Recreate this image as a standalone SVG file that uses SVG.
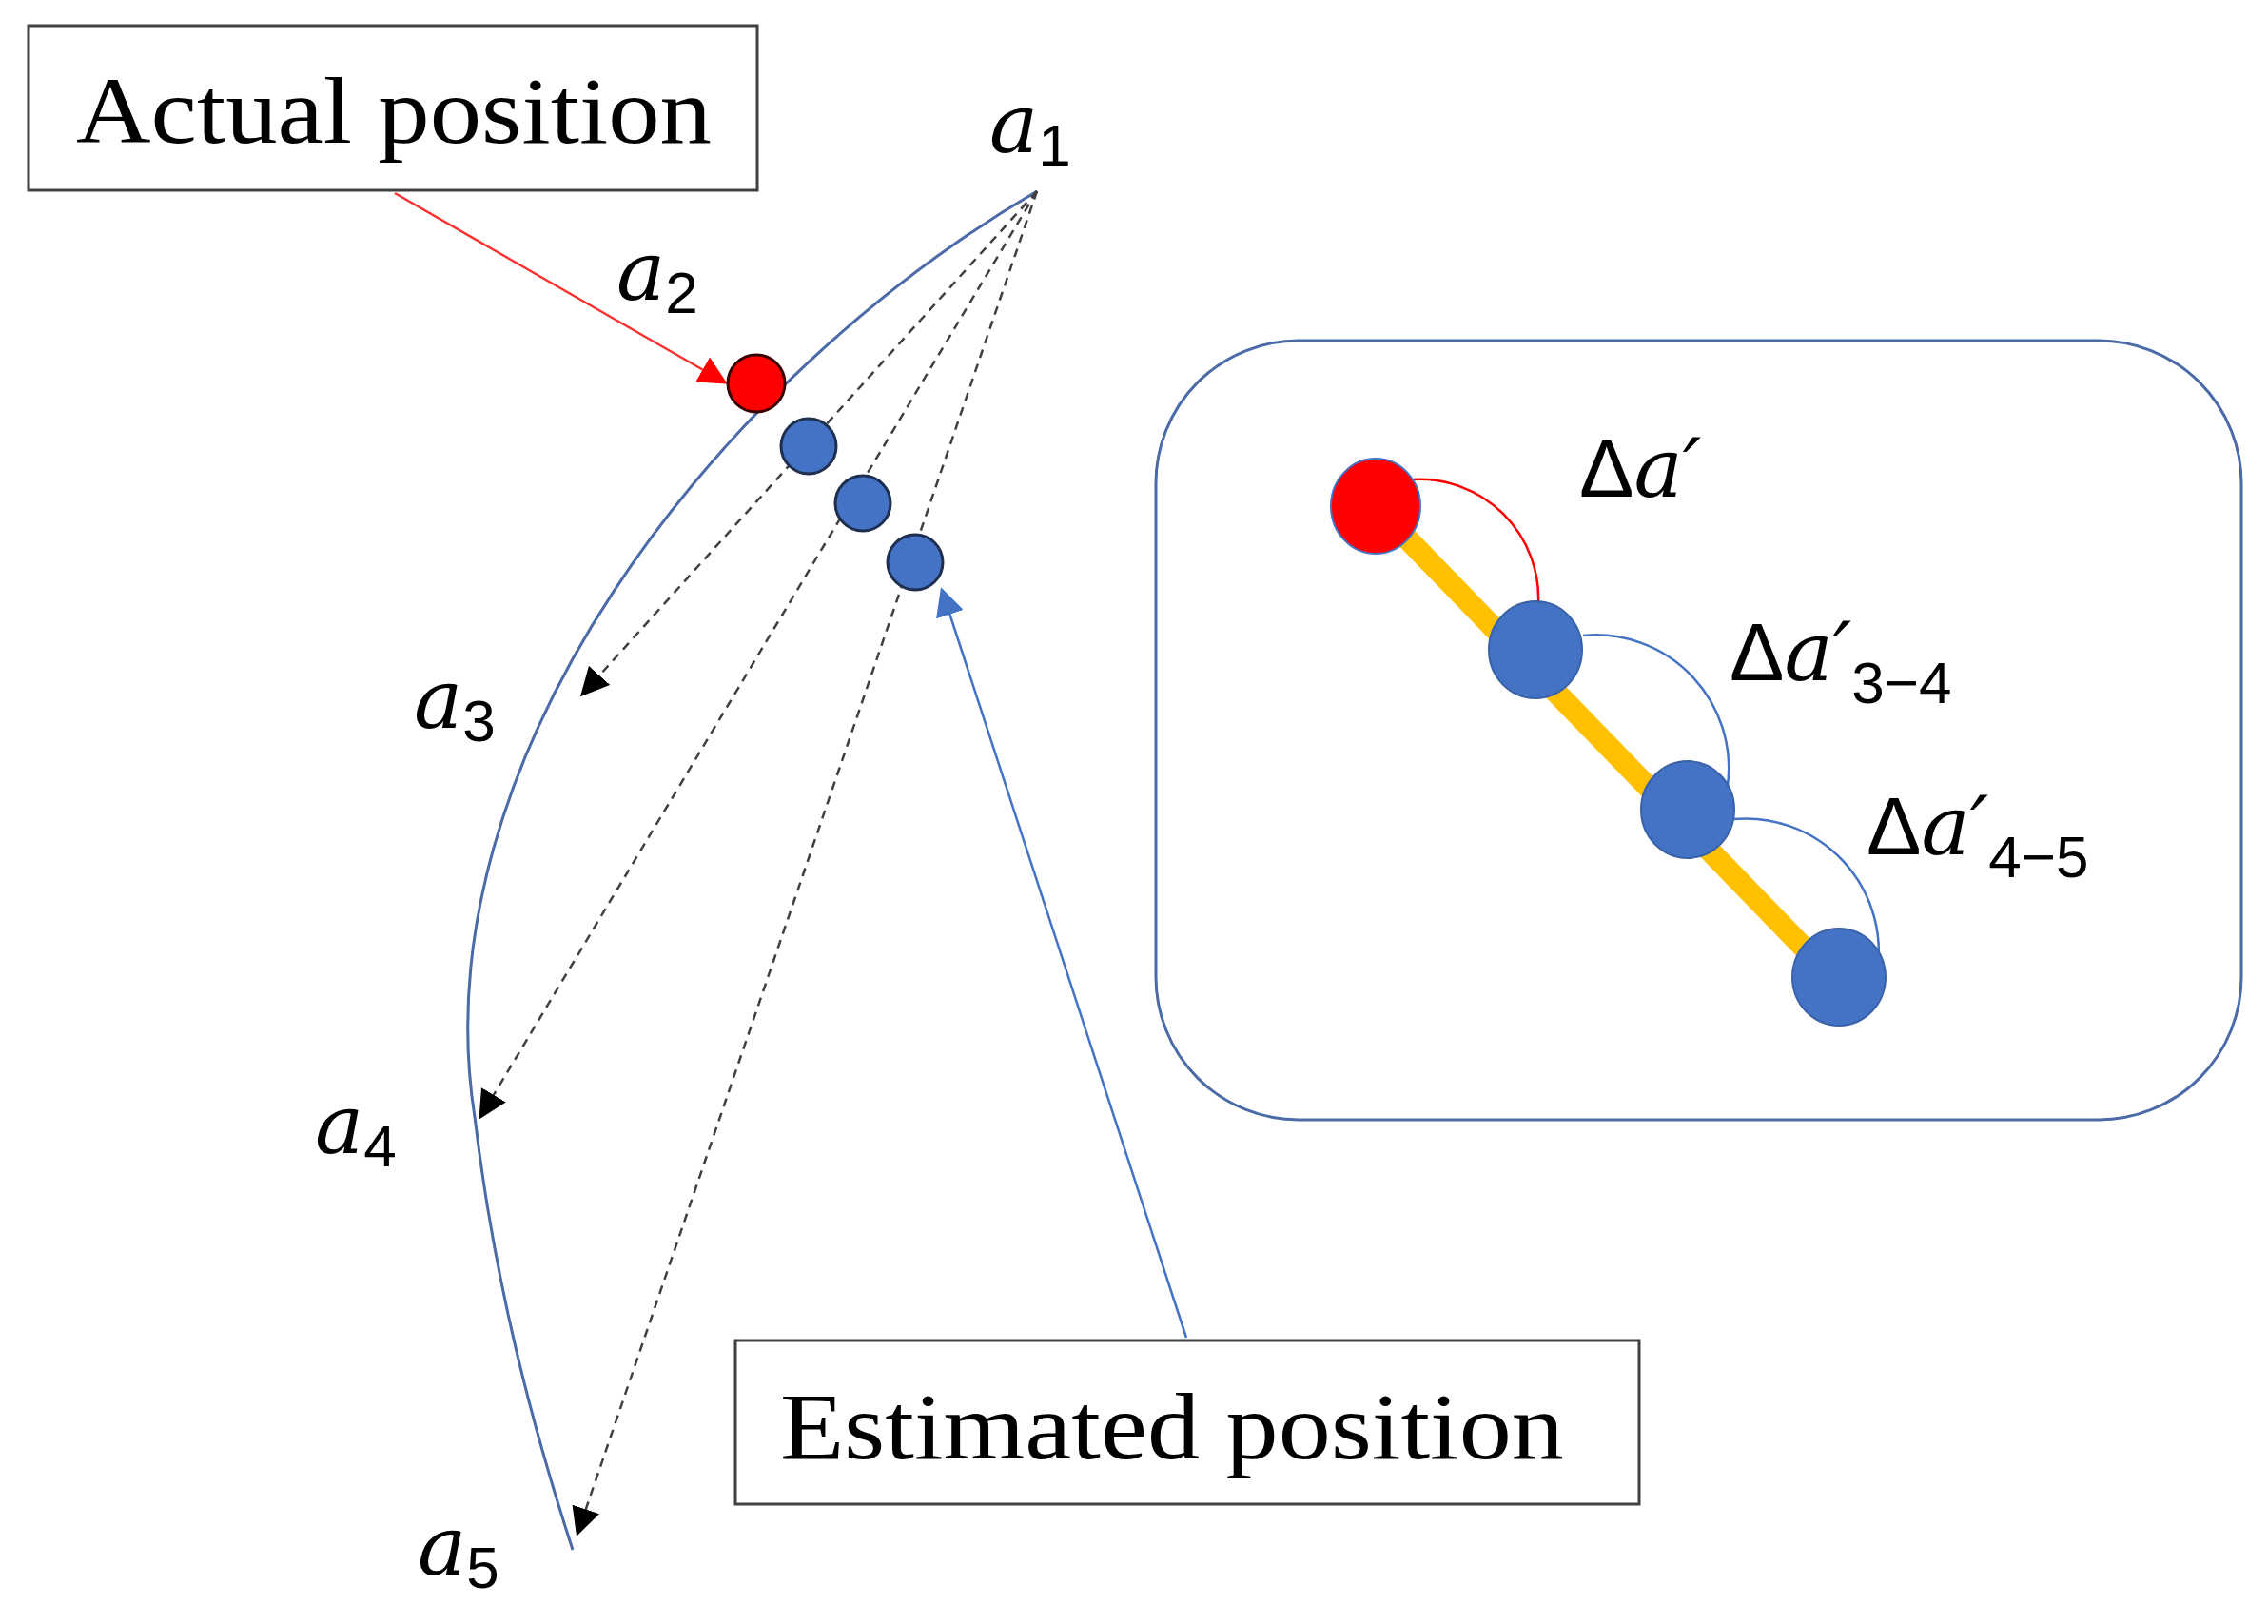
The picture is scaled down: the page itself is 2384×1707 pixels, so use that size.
<svg xmlns="http://www.w3.org/2000/svg" width="2384" height="1707" viewBox="0 0 2384 1707">
<style>
.box{fill:#fff;stroke:#404040;stroke-width:3}
.lbl{font-family:"Liberation Serif",serif;font-size:100px;fill:#000}
.m{font-family:"DejaVu Serif","Liberation Serif",serif;font-style:italic;font-size:86px;fill:#000}
.s{font-family:"Liberation Sans",sans-serif;font-style:normal;font-size:62px}
.d{font-family:"Liberation Sans",sans-serif;font-style:normal}
.dash{stroke:#404040;stroke-width:2.5;stroke-dasharray:9 7;fill:none}
.blue{fill:#4472c4;stroke:#1f2f4f;stroke-width:3}
.iblue{fill:#4472c4;stroke:#3a62a8;stroke-width:2}
</style>
<defs>
<marker id="ak" viewBox="0 0 10 10" refX="9" refY="5" markerWidth="30" markerHeight="30" markerUnits="userSpaceOnUse" orient="auto"><path d="M0,0L10,5L0,10z" fill="#000"/></marker>
<marker id="ar" viewBox="0 0 10 10" refX="9" refY="5" markerWidth="30" markerHeight="30" markerUnits="userSpaceOnUse" orient="auto"><path d="M0,0L10,5L0,10z" fill="#ff0000"/></marker>
<marker id="abl" viewBox="0 0 10 10" refX="9" refY="5" markerWidth="30" markerHeight="30" markerUnits="userSpaceOnUse" orient="auto"><path d="M0,0L10,5L0,10z" fill="#4472c4"/></marker>
</defs>
<g id="connectors">
<path d="M1090,201 C750,400 440,800 499,1174 C520,1350 560,1500 602,1629" fill="none" stroke="#4a6aa8" stroke-width="3"/>
<line class="dash" x1="1090" y1="201" x2="612" y2="730" marker-end="url(#ak)"/>
<line class="dash" x1="1090" y1="201" x2="505" y2="1174" marker-end="url(#ak)"/>
<line class="dash" x1="1090" y1="201" x2="607" y2="1612" marker-end="url(#ak)"/>
<line x1="415" y1="203" x2="762" y2="402" stroke="#ff3030" stroke-width="2.5" marker-end="url(#ar)"/>
<line x1="1247" y1="1406" x2="990" y2="620" stroke="#4472c4" stroke-width="2.5" marker-end="url(#abl)"/>
</g>
<g id="actual"><rect class="box" x="30" y="27" width="766" height="173"/><text class="lbl" x="80" y="150" textLength="668" lengthAdjust="spacingAndGlyphs">Actual position</text></g>
<g id="estimated"><rect class="box" x="773" y="1409" width="950" height="172"/><text class="lbl" x="820" y="1533" textLength="824" lengthAdjust="spacingAndGlyphs">Estimated position</text></g>
<g id="dots">
<circle cx="795" cy="403" r="30" fill="#ff0000" stroke="#3a0000" stroke-width="3"/>
<circle class="blue" cx="850" cy="469" r="29"/>
<circle class="blue" cx="907" cy="529" r="29"/>
<circle class="blue" cx="962" cy="591" r="29"/>
</g>
<g id="labels">
<text class="m" x="1040" y="160">a<tspan class="s" dy="14">1</tspan></text>
<text class="m" x="648" y="315">a<tspan class="s" dy="14">2</tspan></text>
<text class="m" x="435" y="765">a<tspan class="s" dy="14">3</tspan></text>
<text class="m" x="331" y="1212">a<tspan class="s" dy="14">4</tspan></text>
<text class="m" x="439" y="1655">a<tspan class="s" dy="14">5</tspan></text>
</g>
<g id="inset">
<rect x="1215" y="358" width="1141" height="819" rx="150" fill="none" stroke="#4a6aa8" stroke-width="3"/>
<line x1="1446" y1="532" x2="1925" y2="1026" stroke="#ffc000" stroke-width="23"/>
<path d="M1486,504 A125,125 0 0 1 1617,634" fill="none" stroke="#ff0000" stroke-width="2.5"/>
<path d="M1664,668 A140,140 0 0 1 1815,832" fill="none" stroke="#4472c4" stroke-width="2.5"/>
<path d="M1822,861 A140,140 0 0 1 1973,1023" fill="none" stroke="#4472c4" stroke-width="2.5"/>
<ellipse cx="1446" cy="532" rx="47" ry="50" fill="#ff0000" stroke="#4472c4" stroke-width="2"/>
<ellipse class="iblue" cx="1614" cy="683" rx="49" ry="51"/>
<ellipse class="iblue" cx="1774" cy="851" rx="49" ry="51"/>
<ellipse class="iblue" cx="1933" cy="1027" rx="49" ry="51"/>
<text class="m" x="1660" y="522" font-size="92"><tspan class="d">Δ</tspan>a′</text>
<text class="m" x="1818" y="715" font-size="92"><tspan class="d">Δ</tspan>a′<tspan class="s" dy="24">3−4</tspan></text>
<text class="m" x="1962" y="898" font-size="92"><tspan class="d">Δ</tspan>a′<tspan class="s" dy="24">4−5</tspan></text>
</g>
</svg>
